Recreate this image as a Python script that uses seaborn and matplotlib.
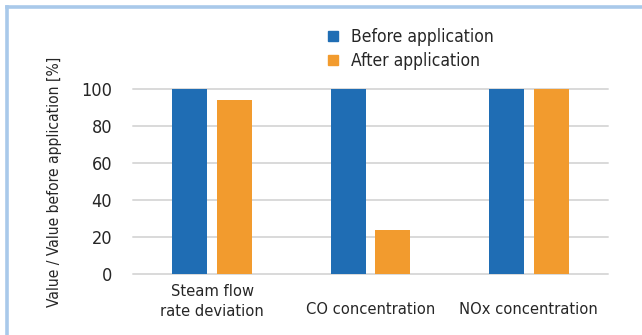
import matplotlib
matplotlib.use("Agg")
import matplotlib.pyplot as plt
from matplotlib import font_manager
import pandas as pd
import seaborn as sns
from matplotlib.lines import Line2D

categories = ["Steam flow\nrate deviation", "CO concentration", "NOx concentration"]
series_names = ["Before application", "After application"]
before_values = [100, 100, 100]
after_values = [94, 24, 100]
y_ticks = [0, 20, 40, 60, 80, 100]

colors = ["#1f6db4", "#f29b2e"]
grid_color = "#d9d9d9"
frame_color = "#a9c9ea"
text_color = "#262626"

df = pd.DataFrame({
    "category": categories * 2,
    "series": [series_names[0]] * 3 + [series_names[1]] * 3,
    "value": before_values + after_values,
})

sns.set_theme(style="white")

# prefer a condensed sans face when one is available
cond = font_manager.findfont(font_manager.FontProperties(family="DejaVu Sans", stretch="condensed"))
if "Condensed" in cond:
    plt.rcParams["font.family"] = ["DejaVu Sans"]
    plt.rcParams["font.stretch"] = "condensed"
else:
    plt.rcParams["font.family"] = ["Noto Sans CJK JP", "DejaVu Sans"]

fig = plt.figure(figsize=(6.42, 3.35), dpi=100)
ax = fig.add_axes([133 / 642, 1 - 274 / 335, (608 - 133) / 642, (274 - 89) / 335])

sns.barplot(data=df, x="category", y="value", hue="series", palette=colors,
            width=0.566, gap=0.22, ax=ax, legend=False, saturation=1, linewidth=0)

ax.set_ylim(0, 100)
ax.set_yticks(y_ticks)
ax.set_xlim(-0.5, 2.5)
for t in y_ticks:
    ax.axhline(t, color=grid_color, lw=1.4, zorder=0, clip_on=False)
for s in ax.spines.values():
    s.set_visible(False)
ax.tick_params(axis="y", length=0, labelsize=13, colors=text_color, pad=15)
ax.tick_params(axis="x", length=0, labelsize=11.8, colors=text_color, pad=7)
ax.set_xlabel("")
ax.set_ylabel("Value / Value before application [%]", fontsize=11.2, color=text_color,
              labelpad=14)

# two-line labels keep the default pad; single-line ones sit on the lower line
line_pitch = 13.2
for tick, name in zip(ax.xaxis.get_major_ticks(), categories):
    tick.label1.set_linespacing(1.43)
    if "\n" not in name:
        tick.set_pad(7 + line_pitch)

handles = [Line2D([0], [0], marker="s", linestyle="", markersize=7.5,
                  markerfacecolor=c, markeredgecolor=c) for c in colors]
fig.legend(handles, series_names, loc="upper left", bbox_to_anchor=(312 / 642, 1 - 21 / 335),
           frameon=False, fontsize=12.5, handletextpad=0.25, labelspacing=0.35,
           handlelength=1.6, labelcolor=text_color, borderaxespad=0)

# light blue frame along the top and left edges
fig.add_artist(Line2D([6.5 / 642, 6.5 / 642], [0, 1 - 6.5 / 335], color=frame_color,
                      lw=2.6, transform=fig.transFigure, solid_capstyle="projecting"))
fig.add_artist(Line2D([6.5 / 642, 1], [1 - 6.5 / 335, 1 - 6.5 / 335], color=frame_color,
                      lw=2.6, transform=fig.transFigure, solid_capstyle="projecting"))

fig.savefig("out.png", dpi=100, facecolor="white")
